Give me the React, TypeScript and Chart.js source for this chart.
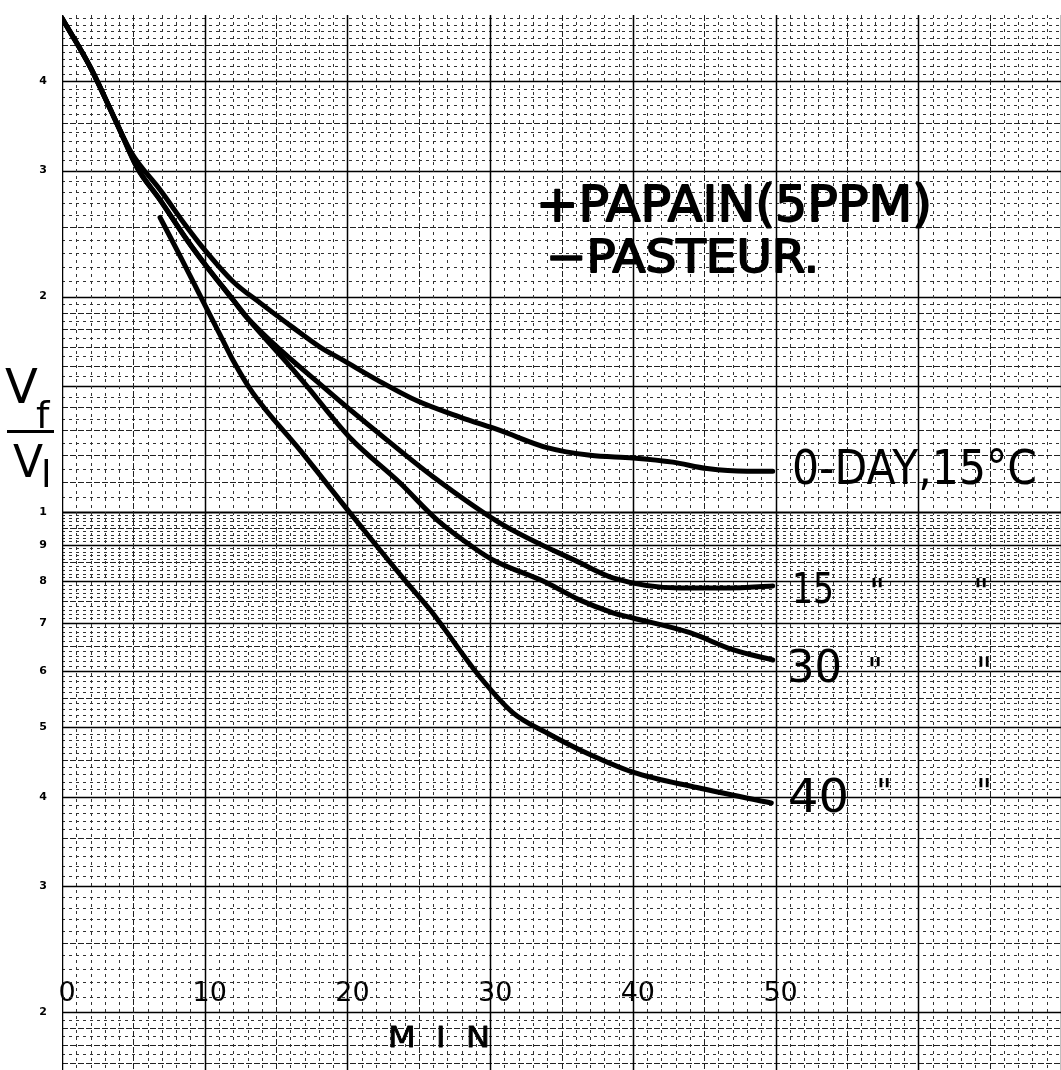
import React, { useEffect, useRef } from 'react';
import { Chart, registerables } from 'chart.js';

Chart.register(...registerables);

const FONT = '"DejaVu Sans", "Liberation Sans", sans-serif';

// ---- axis ticks ----
const xTickValues = [0, 10, 20, 30, 40, 50];
const xTickLabels = ['0', '10', '20', '30', '40', '50'];
const yTickValues = [0.2, 0.3, 0.4, 0.5, 0.6, 0.7, 0.8, 0.9, 1, 2, 3, 4];
const yTickLabels = ['2', '3', '4', '5', '6', '7', '8', '9', '1', '2', '3', '4'];

// ---- series: time (min) vs Vf/Vi ----
const minutes0 = [0, 2, 3.85, 4.9, 6.87, 8.76, 9.88, 11.98, 13.88, 16.19, 18.08, 19.69, 22.07, 24.88, 27.89, 30.69, 33.99, 37.0, 40.0, 42.8, 45.2, 48.0, 49.8];
const ratio0 = [4.9, 4.18, 3.49, 3.17, 2.82, 2.5, 2.34, 2.1, 1.96, 1.81, 1.7, 1.63, 1.53, 1.43, 1.357, 1.3, 1.23, 1.2, 1.19, 1.174, 1.15, 1.14, 1.14];

const minutes15 = [0, 2, 3.85, 5.26, 6.87, 8.76, 10.16, 11.98, 12.96, 18.57, 22.78, 26.0, 30.69, 36.3, 38.6, 43.3, 46.8, 49.8];
const ratio15 = [4.9, 4.18, 3.49, 3.03, 2.73, 2.4, 2.2, 1.98, 1.87, 1.48, 1.26, 1.12, 0.965, 0.849, 0.809, 0.783, 0.783, 0.788];

const minutes30 = [0, 2, 3.85, 5.26, 6.87, 8.76, 10.16, 11.98, 12.96, 16.68, 20.18, 23.69, 26.28, 29.08, 30.2, 33.99, 36.3, 38.6, 40.0, 44.0, 47.0, 49.8];
const ratio30 = [4.9, 4.18, 3.49, 3.03, 2.73, 2.4, 2.2, 1.98, 1.87, 1.54, 1.27, 1.098, 0.975, 0.885, 0.857, 0.796, 0.753, 0.723, 0.711, 0.678, 0.642, 0.621];

const minutes40 = [6.87, 8.27, 9.88, 11.07, 11.98, 13.38, 16.68, 20.18, 22.28, 24.18, 25.79, 29.29, 31.6, 33.99, 36.3, 40.0, 44.5, 49.7];
const ratio40 = [2.58, 2.28, 1.97, 1.77, 1.63, 1.466, 1.22, 0.997, 0.885, 0.796, 0.73, 0.588, 0.524, 0.491, 0.465, 0.433, 0.412, 0.392];

const seriesNames = ['0-DAY,15°C', '15', '30', '40'];

// ---- scale ranges ----
const X_MIN = 0;
const X_MAX = 70;
const Y_MIN = 0.166;
const Y_MAX = 4.95;
const X_AXIS_AT = 0.229;

const zip = (xs: number[], ys: number[]) => xs.map((x, i) => ({ x, y: ys[i] }));

// paper grid lines (values, weight class)
function horizontalGrid() {
  const out: { v: number; k: number }[] = [];
  for (let i = 160; i < 200; i += 5) out.push({ v: i / 1000, k: i % 10 === 0 ? 1 : 0 });
  for (let i = 20; i < 100; i++) out.push({ v: i / 100, k: i % 10 === 0 ? 2 : i % 5 === 0 ? 1 : 0 });
  for (let i = 20; i < 40; i++) out.push({ v: i / 20, k: i === 20 ? 3 : i === 30 ? 2 : i % 2 === 0 ? 1 : 0 });
  for (let i = 20; i <= 50; i++) out.push({ v: i / 10, k: i % 10 === 0 ? 2 : i % 5 === 0 ? 1 : 0 });
  return out;
}

function strokeStyleFor(ctx: CanvasRenderingContext2D, k: number) {
  if (k >= 3) { ctx.strokeStyle = '#000'; ctx.lineWidth = 2.2; ctx.setLineDash([]); }
  else if (k === 2) { ctx.strokeStyle = '#000'; ctx.lineWidth = 1.5; ctx.setLineDash([]); }
  else if (k === 1) { ctx.strokeStyle = '#222'; ctx.lineWidth = 1; ctx.setLineDash([6, 2]); }
  else { ctx.strokeStyle = '#333'; ctx.lineWidth = 1; ctx.setLineDash([3, 4]); }
}

const paperGrid = {
  id: 'paperGrid',
  beforeDatasetsDraw(chart: any) {
    const { ctx, chartArea: ca, scales } = chart;
    const x = scales.x;
    const y = scales.y;
    ctx.save();
    ctx.beginPath();
    ctx.rect(ca.left, ca.top, ca.right - ca.left, ca.bottom - ca.top);
    ctx.clip();
    for (const g of horizontalGrid()) {
      strokeStyleFor(ctx, g.k);
      const py = Math.round(y.getPixelForValue(g.v)) + 0.5;
      ctx.beginPath();
      ctx.moveTo(ca.left, py);
      ctx.lineTo(ca.right, py);
      ctx.stroke();
    }
    for (let m = X_MIN; m <= X_MAX; m++) {
      const k = m % 10 === 0 ? 2 : m % 5 === 0 ? 1 : 0;
      strokeStyleFor(ctx, k);
      const px = Math.round(x.getPixelForValue(m)) + 0.5;
      ctx.beginPath();
      ctx.moveTo(px, ca.top);
      ctx.lineTo(px, ca.bottom);
      ctx.stroke();
    }
    ctx.restore();
  },
};

function drawFitted(ctx: CanvasRenderingContext2D, text: string, left: number, baseline: number, width: number, font: string, stroke: number) {
  ctx.font = font;
  const w = ctx.measureText(text).width;
  ctx.save();
  ctx.translate(left, baseline);
  ctx.scale(width / w, 1);
  ctx.textAlign = 'left';
  ctx.textBaseline = 'alphabetic';
  ctx.fillText(text, 0, 0);
  if (stroke > 0) {
    ctx.lineWidth = stroke;
    ctx.strokeStyle = '#000';
    ctx.lineJoin = 'round';
    ctx.strokeText(text, 0, 0);
  }
  ctx.restore();
}

const legendLines = ['+PAPAIN(5PPM)', '\u2212PASTEUR.'];
const dittoMark = '"';

const textItems = [
  { text: legendLines[0], x: 536, y: 221, w: 396, font: `50px ${FONT}`, stroke: 1.8 },
  { text: legendLines[1], x: 546, y: 272, w: 273, font: `45px ${FONT}`, stroke: 1.8 },
  { text: seriesNames[0], x: 792, y: 484, w: 245, font: `48px ${FONT}`, stroke: 0 },
  { text: seriesNames[1], x: 792, y: 603, w: 42, font: `43px ${FONT}`, stroke: 0 },
  { text: seriesNames[2], x: 787, y: 682, w: 55, font: `44px ${FONT}`, stroke: 0 },
  { text: seriesNames[3], x: 788, y: 812, w: 61, font: `46px ${FONT}`, stroke: 0 },
  { text: 'M  I  N', x: 388, y: 1047, w: 102, font: `28px ${FONT}`, stroke: 0.8 },
];

const dittoSpots = [
  [877, 583], [981, 583],
  [875, 662], [984, 662],
  [884, 783], [984, 783],
];

const paperText = {
  id: 'paperText',
  afterDraw(chart: any) {
    const ctx: CanvasRenderingContext2D = chart.ctx;
    ctx.save();
    ctx.fillStyle = '#000';
    for (const t of textItems) drawFitted(ctx, t.text, t.x, t.y, t.w, t.font, t.stroke);
    ctx.font = `34px ${FONT}`;
    ctx.textAlign = 'center';
    ctx.textBaseline = 'alphabetic';
    for (const [cx, cy] of dittoSpots) ctx.fillText(dittoMark, cx, cy + 20);
    // y-axis title: Vf / Vi
    ctx.textAlign = 'left';
    ctx.font = `48px ${FONT}`;
    ctx.fillText('V', 5, 403);
    ctx.font = `38px ${FONT}`;
    ctx.fillText('f', 36, 428);
    ctx.fillRect(7, 430, 47, 3);
    ctx.font = `44px ${FONT}`;
    ctx.fillText('V', 13, 477);
    ctx.font = `38px ${FONT}`;
    ctx.fillText('l', 41, 487);
    ctx.restore();
  },
};

export default function App() {
  const ref = useRef<HTMLCanvasElement>(null);

  useEffect(() => {
    document.body.style.overflow = 'hidden';
    const lineStyle = {
      borderColor: '#000',
      borderWidth: 5,
      pointRadius: 0,
      fill: false,
      cubicInterpolationMode: 'monotone' as const,
      borderCapStyle: 'round' as const,
      borderJoinStyle: 'round' as const,
    };
    const chart = new Chart(ref.current as HTMLCanvasElement, {
      type: 'line',
      data: {
        datasets: [
          { label: seriesNames[0], data: zip(minutes0, ratio0), ...lineStyle },
          { label: seriesNames[1], data: zip(minutes15, ratio15), ...lineStyle },
          { label: seriesNames[2], data: zip(minutes30, ratio30), ...lineStyle },
          { label: seriesNames[3], data: zip(minutes40, ratio40), ...lineStyle },
        ],
      },
      options: {
        responsive: false,
        animation: false,
        devicePixelRatio: 1,
        layout: { padding: { top: 15, left: 0, right: 0, bottom: 0 } },
        plugins: { legend: { display: false }, tooltip: { enabled: false }, title: { display: false } },
        scales: {
          x: {
            type: 'linear',
            min: X_MIN,
            max: X_MAX,
            position: { y: X_AXIS_AT } as any,
            grid: { display: false },
            border: { display: false },
            afterBuildTicks: (s: any) => { s.ticks = xTickValues.map((value) => ({ value })); },
            ticks: {
              autoSkip: false,
              maxRotation: 0,
              padding: 0,
              labelOffset: 5,
              color: '#000',
              font: { family: FONT, size: 27 },
              callback: (_v: any, i: number) => xTickLabels[i],
            },
          },
          y: {
            type: 'logarithmic',
            min: Y_MIN,
            max: Y_MAX,
            position: 'left',
            grid: { display: false },
            border: { display: false },
            afterBuildTicks: (s: any) => { s.ticks = yTickValues.map((value) => ({ value })); },
            afterFit: (s: any) => { s.width = 62; s.paddingTop = 0; s.paddingBottom = 0; },
            ticks: {
              autoSkip: false,
              padding: 7,
              color: '#000',
              font: { family: FONT, size: 11, weight: 'bold' },
              callback: (_v: any, i: number) => yTickLabels[i],
            },
          },
        },
      },
      plugins: [paperGrid, paperText],
    } as any);
    return () => chart.destroy();
  }, []);

  return (
    <div style={{ position: 'absolute', left: 0, top: 0, width: 1061, height: 1070, background: '#fff' }}>
      <canvas ref={ref} width={1061} height={1070} style={{ display: 'block', width: 1061, height: 1070 }} />
    </div>
  );
}
